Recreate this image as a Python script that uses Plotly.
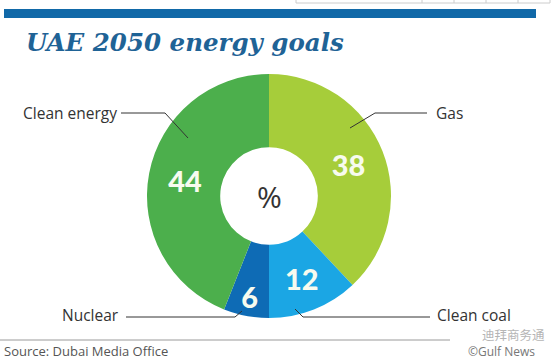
import plotly.graph_objects as go

# ---- data ----
categories = ["Gas", "Clean coal", "Nuclear", "Clean energy"]
values = [38, 12, 6, 44]
colors = ["#a6cd3a", "#1ba6e4", "#0e6bb5", "#4caf4c"]
title_text = "UAE 2050 energy goals"
center_text = "%"
source_text = "Source: Dubai Media Office"
credit_text = "©Gulf News"
watermark_text = "迪拜商务通"

W, H = 553, 359


def px(x):
    return x / W


def py(y):
    return 1 - y / H


cx, cy, R = 269, 196, 122

fig = go.Figure()
fig.add_trace(go.Pie(
    labels=categories,
    values=values,
    sort=False,
    direction="clockwise",
    rotation=0,
    hole=0.40,
    marker=dict(colors=colors, line=dict(width=0)),
    textinfo="value",
    textposition="inside",
    insidetextorientation="horizontal",
    textfont=dict(family="Lato", size=30, color="#f7fbef", weight=900),
    domain=dict(x=[px(cx - R), px(cx + R)], y=[py(cy + R), py(cy - R)]),
    showlegend=False,
    hoverinfo="label+value",
))

shapes = []
# top blue bar
shapes.append(dict(type="rect", xref="paper", yref="paper",
                   x0=px(4), x1=px(536), y0=py(18), y1=py(9),
                   fillcolor="#1169a8", line=dict(width=0), layer="below"))
# faint grey table edge at top right
shapes.append(dict(type="rect", xref="paper", yref="paper",
                   x0=px(296), x1=px(550), y0=py(3), y1=py(-5),
                   fillcolor="rgba(0,0,0,0)", line=dict(width=1, color="#cccccc")))
for xd in [422, 454, 486, 518]:
    shapes.append(dict(type="line", xref="paper", yref="paper",
                       x0=px(xd), x1=px(xd), y0=py(3), y1=py(0),
                       line=dict(width=1, color="#cccccc")))
# bottom rule
shapes.append(dict(type="line", xref="paper", yref="paper",
                   x0=px(0), x1=px(450), y0=py(340), y1=py(340),
                   line=dict(width=1, color="#9a9a9a")))


def leader(points):
    path = "M " + " L ".join(f"{px(x)} {py(y)}" for x, y in points)
    return dict(type="path", xref="paper", yref="paper", path=path,
                line=dict(width=1, color="#333333"))


shapes.append(leader([(121, 113), (165, 113), (188, 138)]))
shapes.append(leader([(427, 113), (375, 113), (350, 128)]))
shapes.append(leader([(126, 317), (235, 317), (242, 311)]))
shapes.append(leader([(430, 317), (303, 317), (295, 309)]))

label_font = dict(family="Open Sans", size=15.5, color="#333333")
annotations = [
    dict(text=title_text, x=px(24), y=py(43), xref="paper", yref="paper",
         xanchor="left", yanchor="middle", showarrow=False,
         font=dict(family="DejaVu Serif", size=24.5, color="#1f6396",
                   weight="bold", style="italic")),
    dict(text=center_text, x=px(cx), y=py(cy), xref="paper", yref="paper",
         xanchor="center", yanchor="middle", showarrow=False,
         font=dict(family="Open Sans", size=30, color="#333333")),
    dict(text="Clean energy", x=px(119), y=py(113), xref="paper", yref="paper",
         xanchor="right", yanchor="middle", showarrow=False, font=label_font),
    dict(text="Gas", x=px(434), y=py(113), xref="paper", yref="paper",
         xanchor="left", yanchor="middle", showarrow=False, font=label_font),
    dict(text="Nuclear", x=px(121), y=py(315), xref="paper", yref="paper",
         xanchor="right", yanchor="middle", showarrow=False, font=label_font),
    dict(text="Clean coal", x=px(435), y=py(315), xref="paper", yref="paper",
         xanchor="left", yanchor="middle", showarrow=False, font=label_font),
    dict(text=source_text, x=px(2), y=py(351), xref="paper", yref="paper",
         xanchor="left", yanchor="middle", showarrow=False,
         font=dict(family="Open Sans", size=13, color="#555555")),
    dict(text=credit_text, x=px(537), y=py(351.5), xref="paper", yref="paper",
         xanchor="right", yanchor="middle", showarrow=False,
         font=dict(family="Open Sans", size=12, color="#777777")),
    dict(text=watermark_text, x=px(547), y=py(334), xref="paper", yref="paper",
         xanchor="right", yanchor="middle", showarrow=False,
         font=dict(family="Noto Sans CJK SC", size=12.5, color="#b5b5b5")),
]

fig.update_layout(
    width=W, height=H,
    margin=dict(l=0, r=0, t=0, b=0),
    paper_bgcolor="white", plot_bgcolor="white",
    shapes=shapes, annotations=annotations,
    uniformtext=dict(minsize=28, mode="show"),
)

fig.write_html("out.html", post_script="document.body.style.margin='0';",
               config={"displayModeBar": False})
